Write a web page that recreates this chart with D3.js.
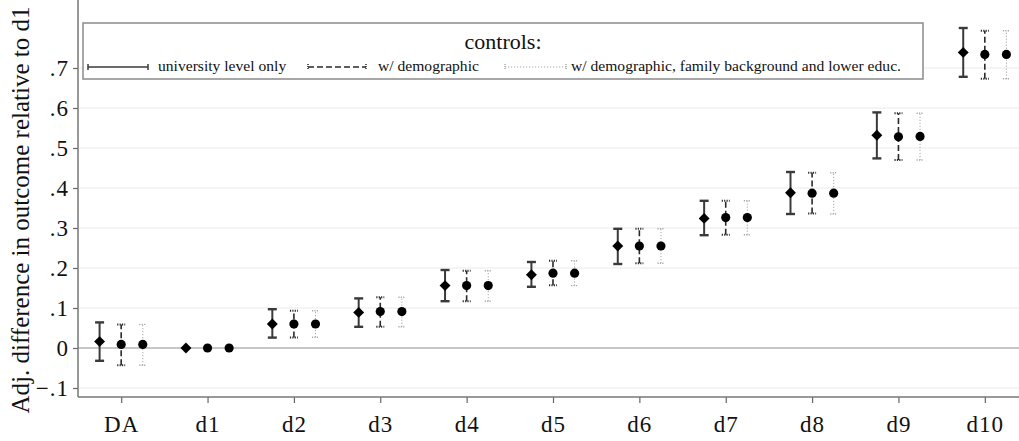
<!DOCTYPE html>
<html lang="en">
<head>
  <meta charset="UTF-8">
  <title>Adj. difference in outcome relative to d1</title>
  <style>
    body { margin: 0; background: #fff; }
    svg { display: block; font-family: "Liberation Serif", "Times New Roman", serif; }
  </style>
</head>
<body>
  <svg id="chart" width="1019" height="441"></svg>

  <script src="https://d3js.org/d3.v7.min.js"></script>
  <script>
    // categories and estimates
    var cats = ["DA", "d1", "d2", "d3", "d4", "d5", "d6", "d7", "d8", "d9", "d10"];

    // university level only
    var est1 = [0.016, 0, 0.060, 0.089, 0.156, 0.183, 0.255, 0.324, 0.388, 0.532, 0.739];
    var lo1  = [-0.032, 0, 0.026, 0.053, 0.117, 0.153, 0.210, 0.282, 0.335, 0.474, 0.678];
    var hi1  = [0.064, 0, 0.097, 0.124, 0.195, 0.215, 0.298, 0.368, 0.440, 0.589, 0.800];

    // w/ demographic
    var est2 = [0.009, 0, 0.060, 0.091, 0.156, 0.187, 0.255, 0.326, 0.387, 0.528, 0.734];
    var lo2  = [-0.043, 0, 0.026, 0.053, 0.117, 0.157, 0.212, 0.283, 0.336, 0.470, 0.673];
    var hi2  = [0.059, 0, 0.093, 0.127, 0.193, 0.218, 0.298, 0.368, 0.438, 0.587, 0.793];

    // w/ demographic, family background and lower educ.
    var est3 = [0.009, 0, 0.060, 0.091, 0.156, 0.187, 0.255, 0.326, 0.387, 0.529, 0.734];
    var lo3  = [-0.043, 0, 0.027, 0.053, 0.117, 0.156, 0.212, 0.283, 0.335, 0.470, 0.673];
    var hi3  = [0.059, 0, 0.093, 0.127, 0.193, 0.218, 0.298, 0.368, 0.438, 0.587, 0.793];

    var yTicks = [-0.1, 0, 0.1, 0.2, 0.3, 0.4, 0.5, 0.6, 0.7];
    var seriesNames = ["university level only", "w/ demographic", "w/ demographic, family background and lower educ."];

    var svg = d3.select("#chart"),
      left = 78, bottom = 397, top = 17;

    var x = d3.scaleLinear().domain([-0.5, 10.5]).range([78, 1028]),
      y = d3.scaleLinear().domain([-0.1, 0.7]).range([388, 68]);

    var series = [
      { est: est1, lo: lo1, hi: hi1, off: -0.25, stroke: "#3a3a3a", width: 2, dash: null, cap: 4.5, marker: "diamond" },
      { est: est2, lo: lo2, hi: hi2, off: 0, stroke: "#2a2a2a", width: 1.6, dash: "6,3", cap: 4, marker: "circle" },
      { est: est3, lo: lo3, hi: hi3, off: 0.25, stroke: "#a8a8a8", width: 1, dash: "1.2,1.8", cap: 3.5, marker: "circle" }
    ];

    // grid lines
    svg.append("g").selectAll("line")
      .data(yTicks)
      .join("line")
      .attr("x1", left).attr("x2", 1019)
      .attr("y1", function(d) { return y(d); })
      .attr("y2", function(d) { return y(d); })
      .attr("stroke", function(d) { return d === 0 ? "#b4b4b4" : "#eaeaea"; })
      .attr("stroke-width", function(d) { return d === 0 ? 1.5 : 1.2; });

    // y axis
    var yAxis = d3.axisLeft(y)
      .tickValues(yTicks)
      .tickSize(5)
      .tickPadding(4)
      .tickFormat(function(d) {
        if (Math.abs(d) < 1e-9) return "0";
        return d3.format(".1f")(d).replace("0.", ".");
      });
    var gy = svg.append("g").attr("transform", "translate(" + left + ",0)").call(yAxis);
    gy.select(".domain").remove();
    gy.selectAll(".tick line").attr("stroke", "#666").attr("stroke-width", 1.2);
    gy.selectAll(".tick text")
      .attr("fill", "#111")
      .style("font-family", "Liberation Serif, serif")
      .style("font-size", "23px")
      .style("letter-spacing", "1px")
      .attr("dy", "0.34em");

    // x axis
    var xAxis = d3.axisBottom(x)
      .tickValues(d3.range(cats.length))
      .tickSize(6)
      .tickPadding(13)
      .tickFormat(function(i) { return cats[i]; });
    var gx = svg.append("g").attr("transform", "translate(0," + bottom + ")").call(xAxis);
    gx.select(".domain").remove();
    gx.selectAll(".tick line").attr("stroke", "#666").attr("stroke-width", 1.2);
    gx.selectAll(".tick text")
      .attr("fill", "#111")
      .style("font-family", "Liberation Serif, serif")
      .style("font-size", "23px")
      .style("letter-spacing", "1px");

    // axis lines
    svg.append("line").attr("x1", left).attr("x2", left).attr("y1", top).attr("y2", bottom)
      .attr("stroke", "#777").attr("stroke-width", 1.5);
    svg.append("line").attr("x1", left).attr("x2", 1019).attr("y1", bottom).attr("y2", bottom)
      .attr("stroke", "#777").attr("stroke-width", 1.5);

    // y title
    svg.append("text")
      .attr("transform", "translate(29,210) rotate(-90)")
      .attr("text-anchor", "middle")
      .attr("fill", "#111")
      .style("font-size", "25px")
      .text("Adj. difference in outcome relative to d1");

    // error bars + markers
    series.forEach(function(s) {
      var g = svg.append("g");
      var idx = d3.range(cats.length).filter(function(i) { return s.hi[i] !== s.lo[i]; });

      g.selectAll("line.bar").data(idx).join("line")
        .attr("class", "bar")
        .attr("x1", function(i) { return x(i + s.off); })
        .attr("x2", function(i) { return x(i + s.off); })
        .attr("y1", function(i) { return y(s.lo[i]); })
        .attr("y2", function(i) { return y(s.hi[i]); })
        .attr("stroke", s.stroke).attr("stroke-width", s.width)
        .attr("stroke-dasharray", s.dash);

      ["lo", "hi"].forEach(function(k) {
        g.selectAll("line.cap" + k).data(idx).join("line")
          .attr("class", "cap" + k)
          .attr("x1", function(i) { return x(i + s.off) - s.cap; })
          .attr("x2", function(i) { return x(i + s.off) + s.cap; })
          .attr("y1", function(i) { return y(s[k][i]); })
          .attr("y2", function(i) { return y(s[k][i]); })
          .attr("stroke", s.stroke).attr("stroke-width", s.width + 0.4)
          .attr("stroke-dasharray", s.dash ? "1.2,1.2" : null);
      });

      var sym = s.marker === "diamond"
        ? d3.symbol().type(d3.symbolDiamond2).size(76)
        : d3.symbol().type(d3.symbolCircle).size(66);

      g.selectAll("path.mk").data(d3.range(cats.length)).join("path")
        .attr("class", "mk")
        .attr("d", sym)
        .attr("transform", function(i) { return "translate(" + x(i + s.off) + "," + y(s.est[i]) + ")"; })
        .attr("fill", "#000");
    });

    // legend
    var lg = svg.append("g");
    lg.append("rect")
      .attr("x", 83).attr("y", 23).attr("width", 840).attr("height", 56)
      .attr("fill", "#fff").attr("stroke", "#8a8a8a").attr("stroke-width", 1.5);
    lg.append("text")
      .attr("x", 503).attr("y", 49)
      .attr("text-anchor", "middle")
      .attr("fill", "#111")
      .style("font-size", "22px")
      .text("controls:");

    var items = [
      { x1: 88, x2: 148, tx: 158 },
      { x1: 308, x2: 366, tx: 378 },
      { x1: 505, x2: 566, tx: 571 }
    ];
    items.forEach(function(it, k) {
      var s = series[k];
      lg.append("line").attr("x1", it.x1).attr("x2", it.x2).attr("y1", 67).attr("y2", 67)
        .attr("stroke", s.stroke).attr("stroke-width", k === 0 ? 1.6 : s.width)
        .attr("stroke-dasharray", s.dash);
      [it.x1, it.x2].forEach(function(px) {
        lg.append("line").attr("x1", px).attr("x2", px).attr("y1", 64).attr("y2", 70)
          .attr("stroke", s.stroke).attr("stroke-width", 1.5)
          .attr("stroke-dasharray", s.dash ? "1,1" : null);
      });
      lg.append("text")
        .attr("x", it.tx).attr("y", 71)
        .attr("fill", "#111")
        .style("font-size", "15.6px")
        .text(seriesNames[k]);
    });
  </script>
</body>
</html>
